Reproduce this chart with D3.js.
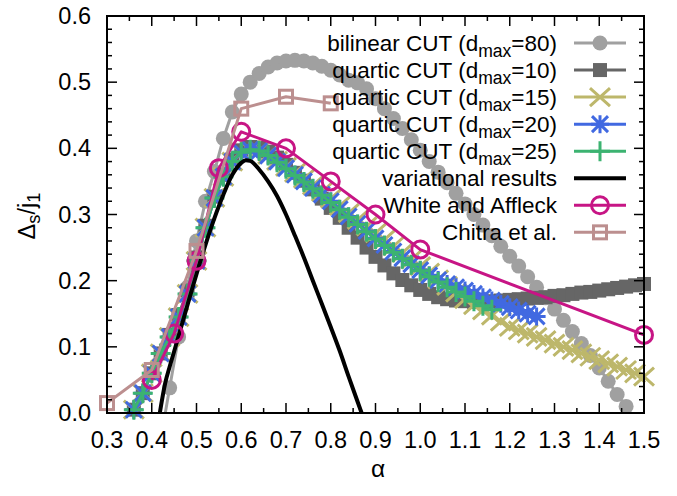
<!DOCTYPE html>
<html><head><meta charset="utf-8">
<script src="https://cdn.jsdelivr.net/npm/d3@7"></script>
<style>body{margin:0;background:#fff}svg{display:block}text{font-family:"Liberation Sans",Arial,Helvetica,sans-serif;fill:#000}</style>
</head><body><svg id="c" width="677" height="496"></svg>
<script>
// ---------- data ----------
const xTickValues = [0.3,0.4,0.5,0.6,0.7,0.8,0.9,1.0,1.1,1.2,1.3,1.4,1.5];
const yTickValues = [0.0,0.1,0.2,0.3,0.4,0.5,0.6];

const bilinearAlpha = [0.42,0.44,0.46,0.48,0.50,0.52,0.54,0.56,0.58,0.60,0.62,0.64,0.66,0.68,0.70,0.72,0.74,0.76,0.78,0.80,0.82,0.84,0.86,0.88,0.90,0.92,0.94,0.96,0.98,1.00,1.02,1.04,1.06,1.08,1.10,1.12,1.14,1.16,1.18,1.20,1.22,1.24,1.26,1.28,1.30,1.32,1.34,1.36,1.38,1.40,1.42,1.44,1.46];
const bilinearGap   = [-0.04,0.038,0.115,0.19,0.26,0.32,0.365,0.415,0.455,0.482,0.50,0.513,0.523,0.529,0.532,0.533,0.532,0.529,0.524,0.518,0.511,0.503,0.499,0.49,0.475,0.46,0.445,0.43,0.413,0.397,0.38,0.364,0.348,0.332,0.316,0.30,0.284,0.268,0.252,0.237,0.222,0.206,0.19,0.174,0.157,0.14,0.123,0.105,0.087,0.068,0.048,0.028,0.01];

const quarticAlpha = [0.36,0.38,0.40,0.42,0.44,0.46,0.48,0.50,0.52,0.54,0.56,0.58,0.60,0.62,0.64,0.66,0.68,0.70,0.72,0.74,0.76,0.78,0.80,0.82,0.84,0.86,0.88,0.90,0.92,0.94,0.96,0.98,1.00,1.02,1.04,1.06,1.08,1.10,1.12,1.14,1.16,1.18,1.20,1.22,1.24,1.26,1.28,1.30,1.32,1.34,1.36,1.38,1.40,1.42,1.44,1.46,1.48,1.50];
const quartic10Gap = [0.005,0.03,0.06,0.09,0.118,0.148,0.185,0.235,0.283,0.327,0.36,0.383,0.397,0.402,0.401,0.395,0.386,0.375,0.363,0.351,0.338,0.324,0.31,0.295,0.28,0.265,0.25,0.236,0.223,0.211,0.201,0.193,0.186,0.18,0.175,0.172,0.17,0.169,0.168,0.168,0.169,0.17,0.171,0.172,0.173,0.174,0.175,0.177,0.178,0.18,0.182,0.183,0.185,0.187,0.189,0.191,0.193,0.195];
const quartic15Gap = [0.005,0.03,0.06,0.09,0.115,0.145,0.18,0.23,0.28,0.325,0.357,0.38,0.394,0.398,0.396,0.39,0.381,0.372,0.363,0.354,0.344,0.334,0.324,0.313,0.302,0.292,0.282,0.272,0.262,0.252,0.242,0.232,0.222,0.212,0.202,0.192,0.182,0.172,0.163,0.155,0.147,0.138,0.13,0.125,0.12,0.115,0.11,0.105,0.10,0.095,0.09,0.085,0.08,0.075,0.07,0.065,0.06,0.055];
const quartic20Gap = [0.005,0.03,0.06,0.09,0.115,0.145,0.18,0.23,0.28,0.325,0.357,0.38,0.394,0.398,0.396,0.389,0.38,0.37,0.36,0.35,0.34,0.33,0.32,0.308,0.297,0.286,0.275,0.264,0.254,0.244,0.234,0.225,0.216,0.208,0.201,0.195,0.19,0.185,0.18,0.175,0.17,0.165,0.16,0.155,0.15,0.146];
const quartic25Gap = [0.005,0.03,0.06,0.09,0.115,0.145,0.18,0.23,0.28,0.325,0.357,0.38,0.394,0.398,0.396,0.389,0.379,0.369,0.359,0.349,0.339,0.329,0.318,0.307,0.296,0.285,0.274,0.263,0.253,0.243,0.233,0.224,0.215,0.206,0.198,0.19,0.183,0.176,0.169,0.162,0.156];

const variationalAlpha = [0.418,0.43,0.44,0.45,0.47,0.50,0.53,0.56,0.58,0.60,0.61,0.62,0.64,0.66,0.68,0.70,0.72,0.74,0.76,0.78,0.80,0.82,0.84,0.86,0.869];
const variationalGap   = [0.0,0.045,0.07,0.093,0.14,0.21,0.275,0.33,0.36,0.378,0.382,0.381,0.368,0.35,0.328,0.30,0.268,0.235,0.20,0.165,0.13,0.094,0.055,0.017,0.0];

const whiteAlpha = [0.4,0.45,0.5,0.55,0.6,0.7,0.8,0.9,1.0,1.5];
const whiteGap   = [0.05,0.12,0.23,0.37,0.425,0.40,0.35,0.30,0.247,0.118];

const chitraAlpha = [0.3,0.4,0.5,0.6,0.7,0.8];
const chitraGap   = [0.015,0.065,0.245,0.46,0.478,0.468];

const legendNames = [
  ["bilinear CUT (d","max","=80)"],
  ["quartic CUT (d","max","=10)"],
  ["quartic CUT (d","max","=15)"],
  ["quartic CUT (d","max","=20)"],
  ["quartic CUT (d","max","=25)"],
  ["variational results"],
  ["White and Affleck"],
  ["Chitra et al."]
];

// ---------- layout ----------
const m = {left:107, right:644, top:16, bottom:413};
const FS = 22.5, TFS = 23.5;
const svg = d3.select("#c");
const x = d3.scaleLinear().domain([0.3,1.5]).range([m.left,m.right]);
const y = d3.scaleLinear().domain([0,0.6]).range([m.bottom,m.top]);

const series = [
  {a:bilinearAlpha, v:bilinearGap, color:"#a0a0a0", marker:"circleFilled", lw:3},
  {a:quarticAlpha, v:quartic10Gap, color:"#666666", marker:"squareFilled", lw:3},
  {a:quarticAlpha, v:quartic15Gap, color:"#bdb76b", marker:"x", lw:3},
  {a:quarticAlpha, v:quartic20Gap, color:"#4169e1", marker:"star", lw:3},
  {a:quarticAlpha, v:quartic25Gap, color:"#3cb371", marker:"plus", lw:3},
  {a:variationalAlpha, v:variationalGap, color:"#000000", marker:null, lw:4, smooth:true},
  {a:whiteAlpha, v:whiteGap, color:"#c71585", marker:"circleOpen", lw:3},
  {a:chitraAlpha, v:chitraGap, color:"#bc8f8f", marker:"squareOpen", lw:3}
];

svg.append("defs").append("clipPath").attr("id","clip")
  .append("rect").attr("x",m.left).attr("y",m.top).attr("width",m.right-m.left).attr("height",m.bottom-m.top);

function drawMarker(g, type, cx, cy, color){
  if(type==="circleFilled"){
    g.append("circle").attr("cx",cx).attr("cy",cy).attr("r",7.5).attr("fill",color);
  } else if(type==="squareFilled"){
    g.append("rect").attr("x",cx-7).attr("y",cy-7).attr("width",14).attr("height",14).attr("fill",color);
  } else if(type==="x"){
    g.append("path").attr("d",`M${cx-10},${cy-9}L${cx+10},${cy+9}M${cx-10},${cy+9}L${cx+10},${cy-9}`)
      .attr("stroke",color).attr("stroke-width",3).attr("fill","none");
  } else if(type==="star"){
    g.append("path").attr("d",`M${cx-8},${cy-8}L${cx+8},${cy+8}M${cx-8},${cy+8}L${cx+8},${cy-8}M${cx},${cy-9}L${cx},${cy+9}M${cx-9},${cy}L${cx+9},${cy}`)
      .attr("stroke",color).attr("stroke-width",3).attr("fill","none");
  } else if(type==="plus"){
    g.append("path").attr("d",`M${cx-10},${cy}L${cx+10},${cy}M${cx},${cy-10}L${cx},${cy+10}`)
      .attr("stroke",color).attr("stroke-width",3).attr("fill","none");
  } else if(type==="circleOpen"){
    g.append("circle").attr("cx",cx).attr("cy",cy).attr("r",8.5).attr("fill","none").attr("stroke",color).attr("stroke-width",3);
  } else if(type==="squareOpen"){
    g.append("rect").attr("x",cx-6.5).attr("y",cy-6.5).attr("width",13).attr("height",13).attr("fill","none").attr("stroke",color).attr("stroke-width",3);
  }
}

// ---------- series ----------
series.forEach(s=>{
  const pts = s.a.map((a,i)=>[a,s.v[i]]);
  const line = d3.line().x(d=>x(d[0])).y(d=>y(d[1]));
  if(s.smooth) line.curve(d3.curveMonotoneX);
  svg.append("path").attr("d",line(pts)).attr("fill","none").attr("stroke",s.color)
    .attr("stroke-width",s.lw).attr("stroke-linejoin","round").attr("clip-path","url(#clip)");
  if(s.marker){
    const g = svg.append("g");
    pts.filter(d=>d[1]>=0 && d[1]<=0.6).forEach(d=>drawMarker(g,s.marker,x(d[0]),y(d[1]),s.color));
  }
});

// ---------- axes (gnuplot style, ticks inward on all sides) ----------
const axG = svg.append("g").attr("stroke","#000").attr("stroke-width",1.5);
const xMinor = d3.range(0.35,1.5,0.1);
const yMinor = d3.range(0,0.6001,0.02).filter(v=>Math.abs(v*10-Math.round(v*10))>1e-6);
xTickValues.forEach(v=>{
  axG.append("line").attr("x1",x(v)).attr("x2",x(v)).attr("y1",m.bottom).attr("y2",m.bottom-10);
  axG.append("line").attr("x1",x(v)).attr("x2",x(v)).attr("y1",m.top).attr("y2",m.top+10);
});
xMinor.forEach(v=>{
  axG.append("line").attr("x1",x(v)).attr("x2",x(v)).attr("y1",m.bottom).attr("y2",m.bottom-5);
  axG.append("line").attr("x1",x(v)).attr("x2",x(v)).attr("y1",m.top).attr("y2",m.top+5);
});
yTickValues.forEach(v=>{
  axG.append("line").attr("x1",m.left).attr("x2",m.left+10).attr("y1",y(v)).attr("y2",y(v));
  axG.append("line").attr("x1",m.right).attr("x2",m.right-10).attr("y1",y(v)).attr("y2",y(v));
});
yMinor.forEach(v=>{
  axG.append("line").attr("x1",m.left).attr("x2",m.left+5).attr("y1",y(v)).attr("y2",y(v));
  axG.append("line").attr("x1",m.right).attr("x2",m.right-5).attr("y1",y(v)).attr("y2",y(v));
});
svg.append("rect").attr("x",m.left).attr("y",m.top).attr("width",m.right-m.left).attr("height",m.bottom-m.top)
  .attr("fill","none").attr("stroke","#000").attr("stroke-width",2);

xTickValues.forEach(v=>{
  svg.append("text").attr("x",x(v)).attr("y",m.bottom+35).attr("text-anchor","middle")
    .attr("font-size",TFS).text(v.toFixed(1));
});
yTickValues.forEach(v=>{
  svg.append("text").attr("x",m.left-16).attr("y",y(v)+8).attr("text-anchor","end")
    .attr("font-size",TFS).text(v.toFixed(1));
});

// axis titles
svg.append("text").attr("x",378).attr("y",477).attr("text-anchor","middle").attr("font-size",TFS+1).text("α");
const yt = svg.append("text").attr("transform","translate(35,216) rotate(-90)").attr("text-anchor","middle").attr("font-size",TFS);
yt.append("tspan").text("Δ");
yt.append("tspan").attr("font-size",TFS*0.78).attr("dy",5).text("s");
yt.append("tspan").attr("dy",-5).text("/j");
yt.append("tspan").attr("font-size",TFS*0.78).attr("dy",5).text("1");

// ---------- legend ----------
const legY0 = 43, legStep = 27.05;
series.forEach((s,i)=>{
  const cy = legY0 + i*legStep;
  const t = svg.append("text").attr("x",557).attr("y",cy+8).attr("text-anchor","end").attr("font-size",FS);
  const parts = legendNames[i];
  if(parts.length===1){ t.text(parts[0]); }
  else {
    t.append("tspan").text(parts[0]);
    t.append("tspan").attr("font-size",FS*0.78).attr("dy",6).text(parts[1]);
    t.append("tspan").attr("dy",-6).text(parts[2]);
  }
  svg.append("line").attr("x1",574).attr("x2",626).attr("y1",cy).attr("y2",cy)
    .attr("stroke",s.color).attr("stroke-width",s.lw);
  if(s.marker) drawMarker(svg.append("g"), s.marker, 600, cy, s.color);
});
</script></body></html>
